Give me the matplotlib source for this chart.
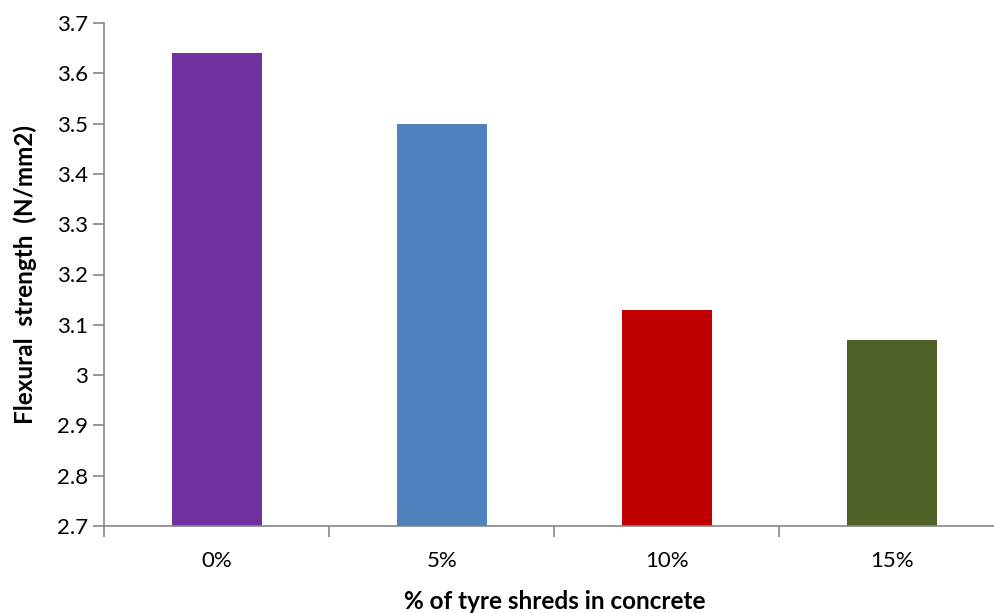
import matplotlib
matplotlib.use("Agg")
import matplotlib.pyplot as plt
import numpy as np

# flexural strength for each tyre shred content
shred_pct = ["0%", "5%", "10%", "15%"]
strength = [3.64, 3.50, 3.13, 3.07]
bar_colors = ["#7030A0", "#4F81BD", "#C00000", "#4F6228"]
yticks = [2.7, 2.8, 2.9, 3.0, 3.1, 3.2, 3.3, 3.4, 3.5, 3.6, 3.7]
ytick_labels = ["2.7", "2.8", "2.9", "3", "3.1", "3.2", "3.3", "3.4", "3.5", "3.6", "3.7"]

plt.rcParams['font.family'] = ['Lato', 'DejaVu Sans']

fig = plt.figure(figsize=(9.95, 6.13), dpi=100)
ax = fig.add_axes([104.5/995, 87/613, 900/995, 503/613])

x = np.arange(len(shred_pct))
ax.bar(x, strength, width=0.4, color=bar_colors, zorder=2)

ax.set_xlim(-0.5, len(shred_pct) - 0.5)
ax.set_ylim(2.7, 3.7)

axis_grey = "#868686"
for side in ["top", "right"]:
    ax.spines[side].set_visible(False)
for side in ["left", "bottom"]:
    ax.spines[side].set_color(axis_grey)
    ax.spines[side].set_linewidth(1.2)

ax.set_yticks(yticks)
ax.set_yticklabels(ytick_labels)
ax.tick_params(axis="y", direction="out", length=8, width=1.2, color=axis_grey,
               labelsize=16, pad=4)

# ticks sit between categories, labels in the middle
ax.set_xticks(np.arange(-0.5, len(shred_pct) + 0.5, 1.0))
ax.set_xticklabels([])
ax.set_xticks(x, minor=True)
ax.set_xticklabels(shred_pct, minor=True)
ax.tick_params(axis="x", which="major", direction="out", length=8, width=1.2, color=axis_grey)
ax.tick_params(axis="x", which="minor", length=0, labelsize=16, pad=18)

ax.set_xlabel("% of tyre shreds in concrete", fontsize=17.5, fontweight="bold", labelpad=14)
ax.set_ylabel("Flexural  strength  (N/mm2)", fontsize=17.5, fontweight="bold", labelpad=14)

fig.savefig("out.png", dpi=100)
